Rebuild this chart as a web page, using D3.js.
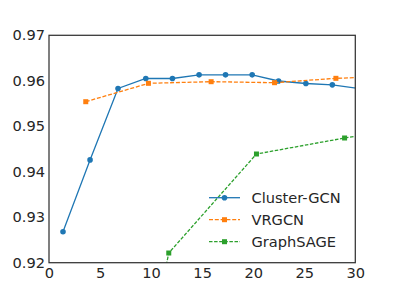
<!DOCTYPE html>
<html lang="en">
<head>
<meta charset="UTF-8">
<title>Accuracy vs time</title>
<script src="https://d3js.org/d3.v7.min.js"></script>
<style>
    body { margin: 0; background: #fff; }
    svg text { font-family: "DejaVu Sans", sans-serif; fill: #262626; }
</style>
</head>
<body>
<svg width="395" height="296"></svg>
<script>
    // values
    const clusterX = [1.37, 4.02, 6.76, 9.48, 12.09, 14.7, 17.29, 19.9, 22.48, 25.16, 27.75, 30.4];
    const clusterY = [0.9268, 0.9426, 0.9583, 0.9605, 0.9605, 0.9613, 0.9613, 0.9613, 0.95995, 0.9594, 0.9591, 0.9583];
    const vrgcnX = [3.6, 9.74, 15.88, 22.09, 28.1, 34];
    const vrgcnY = [0.9554, 0.95944, 0.9598, 0.95958, 0.96054, 0.961];
    const sageX = [9.0, 11.73, 20.32, 28.95, 32];
    const sageY = [0.892, 0.92213, 0.9439, 0.94742, 0.9485];
    const xTicks = [0, 5, 10, 15, 20, 25, 30];
    const yTicks = [0.92, 0.93, 0.94, 0.95, 0.96, 0.97];

    const series = [
        {name: "Cluster-GCN", xs: clusterX, ys: clusterY, color: "#1f77b4", dash: null, marker: "circle"},
        {name: "VRGCN", xs: vrgcnX, ys: vrgcnY, color: "#ff7f0e", dash: "4,1.8", marker: "square"},
        {name: "GraphSAGE", xs: sageX, ys: sageY, color: "#2ca02c", dash: "3.5,1.6", marker: "square"}
    ];

    const margin = {top: 35.3, right: 39.7, bottom: 33.3, left: 49},
          width = 395 - margin.left - margin.right,
          height = 296 - margin.top - margin.bottom;

    const svg = d3.select("svg")
        .append("g")
        .attr("transform", "translate(" + margin.left + "," + margin.top + ")");

    const x = d3.scaleLinear().domain([0, 30]).range([0, width]);
    const y = d3.scaleLinear().domain([0.92, 0.97]).range([height, 0]);

    svg.append("clipPath").attr("id", "clip")
        .append("rect").attr("width", width).attr("height", height);

    // axes, no tick marks
    const xAxis = svg.append("g")
        .attr("transform", "translate(0," + height + ")")
        .call(d3.axisBottom(x).tickValues(xTicks).tickSize(0).tickPadding(5).tickFormat(d3.format("d")));
    const yAxis = svg.append("g")
        .call(d3.axisLeft(y).tickValues(yTicks).tickSize(0).tickPadding(4).tickFormat(d3.format(".2f")));
    [xAxis, yAxis].forEach(a => {
        a.select(".domain").remove();
        a.selectAll("text").style("font-size", "14.6px").attr("fill", "#262626");
    });

    const plot = svg.append("g").attr("clip-path", "url(#clip)");

    function drawMarker(g, kind, cx, cy, color) {
        if (kind === "circle") {
            g.append("circle").attr("cx", cx).attr("cy", cy).attr("r", 2.8).attr("fill", color);
        } else {
            g.append("rect").attr("x", cx - 2.5).attr("y", cy - 2.5)
                .attr("width", 5).attr("height", 5).attr("fill", color);
        }
    }

    const line = d3.line().x(d => x(d[0])).y(d => y(d[1]));

    series.forEach(s => {
        const pts = s.xs.map((v, i) => [v, s.ys[i]]);
        plot.append("path")
            .datum(pts)
            .attr("d", line)
            .attr("fill", "none")
            .attr("stroke", s.color)
            .attr("stroke-width", 1.3)
            .attr("stroke-dasharray", s.dash);
        pts.forEach(p => drawMarker(plot, s.marker, x(p[0]), y(p[1]), s.color));
    });

    // frame
    svg.append("rect")
        .attr("width", width).attr("height", height)
        .attr("fill", "none").attr("stroke", "#333").attr("stroke-width", 1.25);

    // legend
    const legend = svg.append("g").attr("transform", "translate(" + (209 - margin.left) + "," + (197.7 - margin.top) + ")");
    series.forEach((s, i) => {
        const row = legend.append("g").attr("transform", "translate(0," + (i * 22) + ")");
        row.append("line")
            .attr("x1", 0).attr("x2", 31).attr("y1", 0).attr("y2", 0)
            .attr("stroke", s.color).attr("stroke-width", 1.3)
            .attr("stroke-dasharray", s.dash);
        drawMarker(row, s.marker, 15.5, 0, s.color);
        row.append("text")
            .attr("x", 42.5).attr("y", 0).attr("dy", "0.35em")
            .style("font-size", "14.6px")
            .text(s.name);
    });
</script>
</body>
</html>
